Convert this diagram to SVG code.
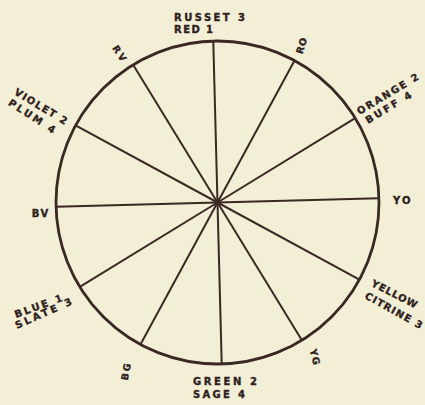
<svg xmlns="http://www.w3.org/2000/svg" width="425" height="405" viewBox="0 0 425 405">
<style>
.bg{fill:#f3efd7}
.rim{fill:none;stroke:#3a2823;stroke-width:2.8}
.spoke{stroke:#3a2823;stroke-width:2}
.lbl{font-family:"DejaVu Sans","Liberation Sans",Arial,sans-serif;font-weight:bold;font-size:10px;fill:#2e211d;stroke:#2e211d;stroke-width:0.35}
.sm{font-size:9.5px}
</style>
<rect class="bg" x="0" y="0" width="425" height="405"/>
<g id="wheel">
<circle class="rim" cx="217.5" cy="202.5" r="161.5"/>
</g>
<g id="connectors">
<line class="spoke" x1="217.5" y1="202.5" x2="217.5" y2="41" transform="rotate(-1.5 217.5 202.5)"/>
<line class="spoke" x1="217.5" y1="202.5" x2="217.5" y2="41" transform="rotate(28.5 217.5 202.5)"/>
<line class="spoke" x1="217.5" y1="202.5" x2="217.5" y2="41" transform="rotate(58.5 217.5 202.5)"/>
<line class="spoke" x1="217.5" y1="202.5" x2="217.5" y2="41" transform="rotate(88.5 217.5 202.5)"/>
<line class="spoke" x1="217.5" y1="202.5" x2="217.5" y2="41" transform="rotate(118.5 217.5 202.5)"/>
<line class="spoke" x1="217.5" y1="202.5" x2="217.5" y2="41" transform="rotate(148.5 217.5 202.5)"/>
<line class="spoke" x1="217.5" y1="202.5" x2="217.5" y2="41" transform="rotate(178.5 217.5 202.5)"/>
<line class="spoke" x1="217.5" y1="202.5" x2="217.5" y2="41" transform="rotate(208.5 217.5 202.5)"/>
<line class="spoke" x1="217.5" y1="202.5" x2="217.5" y2="41" transform="rotate(238.5 217.5 202.5)"/>
<line class="spoke" x1="217.5" y1="202.5" x2="217.5" y2="41" transform="rotate(268.5 217.5 202.5)"/>
<line class="spoke" x1="217.5" y1="202.5" x2="217.5" y2="41" transform="rotate(298.5 217.5 202.5)"/>
<line class="spoke" x1="217.5" y1="202.5" x2="217.5" y2="41" transform="rotate(328.5 217.5 202.5)"/>
</g>
<g id="red">
<text class="lbl" x="174" y="20.7" textLength="71" lengthAdjust="spacing">RUSSET 3</text>
<text class="lbl" x="174" y="32.7" textLength="39" lengthAdjust="spacing">RED 1</text>
</g>
<g id="ro"><text class="lbl sm" transform="translate(302.2 54.4) rotate(-72)" textLength="16" lengthAdjust="spacing">RO</text></g>
<g id="orange">
<text class="lbl" transform="translate(359.5 115) rotate(-31)" textLength="70" lengthAdjust="spacing">ORANGE 2</text>
<text class="lbl" transform="translate(368 124) rotate(-31)" textLength="52" lengthAdjust="spacing">BUFF 4</text>
</g>
<g id="yo"><text class="lbl" x="393" y="204" textLength="17.5" lengthAdjust="spacing">YO</text></g>
<g id="yellow">
<text class="lbl" transform="translate(370.6 285.7) rotate(27)" textLength="50" lengthAdjust="spacing">YELLOW</text>
<text class="lbl" transform="translate(364 298) rotate(29)" textLength="64" lengthAdjust="spacing">CITRINE 3</text>
</g>
<g id="yg"><text class="lbl sm" transform="translate(309.8 349.9) rotate(76)" textLength="16" lengthAdjust="spacing">YG</text></g>
<g id="green">
<text class="lbl" x="193" y="385" textLength="64" lengthAdjust="spacing">GREEN 2</text>
<text class="lbl" x="193" y="397.7" textLength="52" lengthAdjust="spacing">SAGE 4</text>
</g>
<g id="bg"><text class="lbl sm" transform="translate(127.8 380.7) rotate(-80)" textLength="17" lengthAdjust="spacing">BG</text></g>
<g id="blue">
<text class="lbl" transform="translate(16 318) rotate(-20)" textLength="50" lengthAdjust="spacing">BLUE 1</text>
<text class="lbl" transform="translate(17 329) rotate(-24)" textLength="61" lengthAdjust="spacing">SLATE 3</text>
</g>
<g id="bv"><text class="lbl" x="31.7" y="216.7" textLength="16.6" lengthAdjust="spacing">BV</text></g>
<g id="violet">
<text class="lbl" transform="translate(13.4 94) rotate(31)" textLength="60" lengthAdjust="spacing">VIOLET 2</text>
<text class="lbl" transform="translate(7.4 104.4) rotate(33)" textLength="54" lengthAdjust="spacing">PLUM 4</text>
</g>
<g id="rv"><text class="lbl sm" transform="translate(111.9 48) rotate(57)" textLength="17" lengthAdjust="spacing">RV</text></g>
</svg>
